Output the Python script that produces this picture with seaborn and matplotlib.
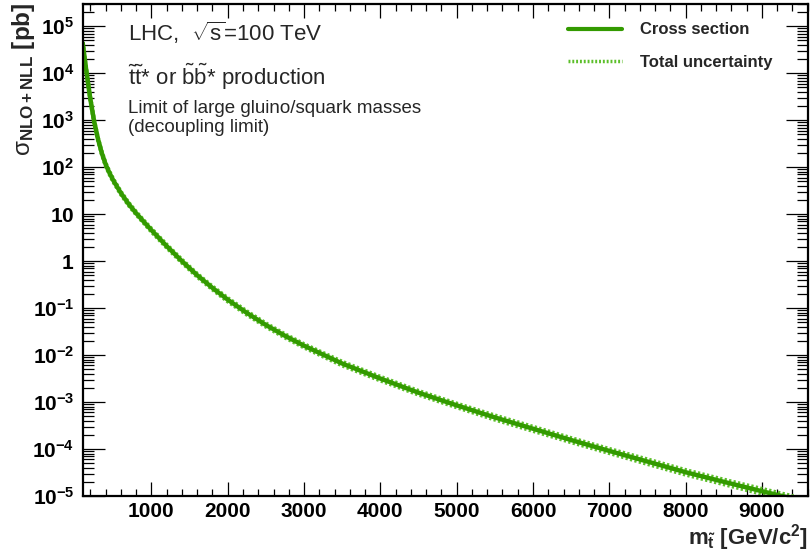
import numpy as np
import pandas as pd
import matplotlib
matplotlib.use('Agg')
import matplotlib.pyplot as plt
import seaborn as sns
from matplotlib.ticker import FixedLocator, FixedFormatter, MultipleLocator, LogLocator, NullFormatter

# Stop / sbottom pair cross section
mass_gev = [100, 125, 150, 175, 200, 250, 300, 350, 400, 450, 500, 600, 700, 800, 900,
            1000, 1200, 1400, 1600, 1800, 2000, 2250, 2500, 2750, 3000, 3500, 4000,
            4500, 5000, 5500, 6000, 6500, 7000, 7500, 8000, 8500, 9000, 9500]
xsec_pb = [4.37e4, 2.09e4, 1.05e4, 5.37e3, 2.82e3, 933, 398, 200, 115, 75.9, 52.5, 28.2,
           16.6, 10.5, 6.9, 4.57, 2.09, 1.0, 0.50, 0.269, 0.151, 0.079, 0.0437, 0.0257,
           0.0158, 6.6e-3, 3.16e-3, 1.58e-3, 8.5e-4, 4.7e-4, 2.7e-4, 1.55e-4, 9.1e-5,
           5.4e-5, 3.2e-5, 2.0e-5, 1.26e-5, 8.1e-6]
# total relative uncertainty in percent
unc_pct = [5, 5, 5, 5, 5, 5, 5, 5, 6, 6, 6, 6, 6, 6, 6, 7, 7, 7, 7, 7, 8, 8, 8, 8, 8,
           9, 9, 9, 9, 10, 10, 10, 10, 11, 11, 11, 12, 12]

ytick_vals = [1e-5, 1e-4, 1e-3, 1e-2, 1e-1, 1, 10, 1e2, 1e3, 1e4, 1e5]
ytick_labels = [r'$\mathbf{10^{-5}}$', r'$\mathbf{10^{-4}}$', r'$\mathbf{10^{-3}}$',
                r'$\mathbf{10^{-2}}$', r'$\mathbf{10^{-1}}$', r'$\mathbf{1}$',
                r'$\mathbf{10}$', r'$\mathbf{10^{2}}$', r'$\mathbf{10^{3}}$',
                r'$\mathbf{10^{4}}$', r'$\mathbf{10^{5}}$']
xtick_vals = [1000, 2000, 3000, 4000, 5000, 6000, 7000, 8000, 9000]

df = pd.DataFrame({'mass': mass_gev, 'xsec': xsec_pb, 'unc': unc_pct})
df['up'] = df['xsec'] * (1 + df['unc'] / 100)
df['down'] = df['xsec'] * (1 - df['unc'] / 100)

sns.set_style('ticks')
plt.rcParams['font.family'] = ['Liberation Sans', 'DejaVu Sans']
plt.rcParams['mathtext.fontset'] = 'custom'
plt.rcParams['mathtext.rm'] = 'Liberation Sans'
plt.rcParams['mathtext.it'] = 'Liberation Sans:italic'
plt.rcParams['mathtext.bf'] = 'Liberation Sans:bold'

green = '#339a00'
light_green = '#5cbf2a'
dots = (0, (0.55, 0.55))

fig = plt.figure(figsize=(8.11, 5.56), dpi=100)
ax = fig.add_axes([0.102, 0.108, 0.894, 0.885])

sns.lineplot(data=df, x='mass', y='up', ax=ax, color=light_green, lw=3, linestyle=dots)
sns.lineplot(data=df, x='mass', y='down', ax=ax, color=light_green, lw=3, linestyle=dots)
sns.lineplot(data=df, x='mass', y='xsec', ax=ax, color=green, lw=3.2)

ax.set_yscale('log')
ax.set_xlim(100, 9600)
ax.set_ylim(1e-5, 3e5)

ax.xaxis.set_major_locator(FixedLocator(xtick_vals))
ax.xaxis.set_minor_locator(MultipleLocator(200))
ax.yaxis.set_major_locator(FixedLocator(ytick_vals))
ax.yaxis.set_major_formatter(FixedFormatter(ytick_labels))
ax.yaxis.set_minor_locator(LogLocator(base=10, subs=np.arange(2, 10), numticks=100))
ax.yaxis.set_minor_formatter(NullFormatter())
ax.set_xticklabels([str(v) for v in xtick_vals], fontweight='bold')

ax.tick_params(axis='both', which='both', direction='in', top=True, right=True,
               colors='black', width=0.9, labelsize=15)
ax.tick_params(axis='x', which='major', length=10, pad=4)
ax.tick_params(axis='x', which='minor', length=5)
ax.tick_params(axis='y', which='major', length=16, pad=6)
ax.tick_params(axis='y', which='minor', length=8)
for sp in ax.spines.values():
    sp.set_linewidth(1.6)
    sp.set_color('black')

ax.set_xlabel('')
ax.set_ylabel('')
fig.text(0.996, 0.006, r'$\mathbf{m_{\tilde{t}}}$ [GeV/c$^{\mathbf{2}}$]', ha='right',
         va='bottom', fontsize=16, fontweight='bold')
fig.text(0.012, 0.996, r'$\mathrm{\sigma}_{\mathbf{NLO+NLL}}$ [pb]', rotation=90, ha='left',
         va='top', fontsize=17.5, fontweight='bold')

ax.text(0.0625, 0.941, r'LHC,  $\sqrt{\mathrm{s}}$=100 TeV', transform=ax.transAxes,
        fontsize=16, va='center')
ax.text(0.0625, 0.852, r'$\tilde{\mathrm{t}}\tilde{\mathrm{t}}$* or $\tilde{\mathrm{b}}\tilde{\mathrm{b}}$* production',
        transform=ax.transAxes, fontsize=16, va='center')
ax.text(0.0625, 0.787, 'Limit of large gluino/squark masses', transform=ax.transAxes,
        fontsize=13.5, va='center')
ax.text(0.0625, 0.748, '(decoupling limit)', transform=ax.transAxes,
        fontsize=13.5, va='center')

h1, = ax.plot([], [], color=green, lw=3)
h2, = ax.plot([], [], color=light_green, lw=2.5, linestyle=dots)
leg = ax.legend([h1, h2], ['Cross section', 'Total uncertainty'], loc='upper left',
                bbox_to_anchor=(0.648, 0.993), frameon=False, handlelength=3.24,
                handletextpad=1.08, labelspacing=1.05, prop={'weight': 'bold', 'size': 12})

fig.savefig('out.png', dpi=100)
